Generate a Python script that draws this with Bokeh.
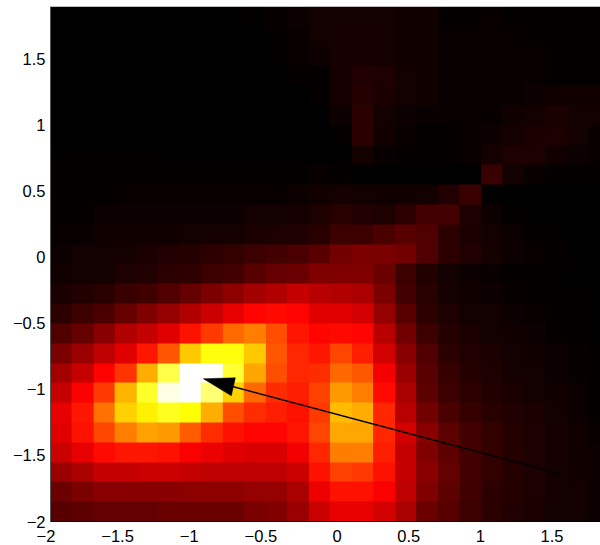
import numpy as np
from bokeh.embed import file_html
from bokeh.resources import INLINE
from bokeh.plotting import figure
from bokeh.models import LinearColorMapper, FixedTicker

# Heat values per row, bottom row first, columns left to right (0..100 on the "hot" scale)
r00 = [13,14,15,15,15,16,16,16,16,18,19,23,30,34,34,31,25,16,13,9,7,5,4,3,3,2]
r01 = [16,18,20,20,20,20,21,21,21,22,22,25,35,40,40,37,28,19,14,9.5,7,5.5,4.5,3.5,3,2]
r02 = [23,25,29,29,30,30,29,28,28,28,28,30,40,47,46,40,29,20,14.5,10,7.5,5.5,4.5,3.5,2.5,2]
r03 = [30,34,39,41,41,40,37,35,33,32,32,36,43,56,56,42,29,19,14,10,7.5,5.5,4.5,3.5,2.5,2]
r04 = [33,40,48,56,61,60,51,44,40,38,38,41,48,62,62,43,31,20,14,10,7.5,5.5,4.5,3.5,2.5,1.5]
r05 = [34,41,54,68,73,78,75,63,49,44,42,40,46,65,63,43,27,17,11,8,6,5,4,3,2,1]
r06 = [29,37,46,64,79,97,100,86,68,53,44,42,47,60,56,39,25,14,9,7,5,4,3,2.5,2,1]
r07 = [24,29,37.5,45,63,82,100,99,80,62,49,43,44,53,50,36,23,13,8,5.5,4.5,3.5,3,2,1.5,1]
r08 = [18,23,28,33,41,50,67,76,76,67,50,43,41,48,42,31,20,12,7,5,4,3,2.5,2,1.5,0.5]
r09 = [12,15,20,26,29,33,40,46,53,56,49,41,38,39,38,27,17,9,5.5,4,3,2.5,2,1,1,0.3]
r10 = [7,9,11,15,19,22,26,30,34,38,39,38,33,33,31,22,13,7,4.5,3,3,2,1.5,1,0.5,0.3]
r11 = [4,5,6,8.5,9.5,12,15,18,21,24,26,29,27,26,25,18,10,6,3.5,2.5,2,1.5,1,0.7,0.5,0.3]
r12 = [2.5,3,3,4.5,5,7,7,9,10,13,15,16,19,19,19,16,9,5,3,2,1.5,1,0.7,0.5,0.3,0.1]
r13 = [2,3,3,3.5,4,5,5.5,7,7.5,9,10,11,13,17,18,18,17,12,7,5,3.5,2,1.5,1,0.3,0.2]
r14 = [1.5,1.5,2.5,2.5,2.5,2.5,3,3.5,3.5,4,4.5,5,6,9,9,11,13,12,7,4,3,2,1,0.5,0.2,0.2]
r15 = [1,1,2,2,2,2,2,2,2,3,3,3.5,4.5,6,5,4.5,7,10,10,4.5,2,1,0.3,0.2,0.2,0.2]
r16 = [1,1,1,1.5,1.5,1.5,1.5,1.5,1.5,1.5,1.5,2,2.5,3.5,3,2.5,2.5,3,5,8.5,1,0.3,0.2,0.2,0.2,0.2]
r17 = [0.8,0.8,0.8,0.8,0.8,0.8,0.8,0.8,0.8,0.8,0.8,1,1.5,1,0.3,0.2,0.2,0.2,0.2,0.2,8.5,3,1.5,1,1,1]
r18 = [0.7,0.7,0.7,0.7,0.7,0.1,0.1,0.1,0.1,0.1,0.1,0.1,0.2,0.2,3.5,1.5,1,1,1,1.5,3.5,4.5,4.5,2.5,2,1.5]
r19 = [0.1,0.1,0.1,0.1,0.1,0.1,0.1,0.1,0.1,0.1,0.1,0.1,0.1,1,6.5,2.5,1.5,1,1,1.5,2,3.5,4,4.5,3,1.5]
r20 = [0.1,0.1,0.1,0.1,0.1,0.1,0.1,0.1,0.1,0.1,0.1,0.1,0.2,2,6.5,3,2,1.5,1.5,1.5,1.5,2.5,3,4,3,3]
r21 = [0.1,0.1,0.1,0.1,0.1,0.1,0.1,0.1,0.1,0.1,0.1,0.1,0.8,3.5,5.5,4,3,2.5,1.5,1.5,1.5,1.5,2,2.5,2.5,2.5]
r22 = [0.1,0.1,0.1,0.1,0.1,0.1,0.1,0.1,0.1,0.1,0.1,1,1,3.5,5,4.5,3,2.5,1.5,1.5,1.5,1.5,1.5,1,1,1]
r23 = [0.1,0.1,0.1,0.1,0.1,0.1,0.1,0.1,0.1,0.1,1,1.5,2,3.5,3.5,3.5,2.5,2.5,1.5,1.2,1.2,1.2,1.2,1,1,1]
r24 = [0.1,0.1,0.1,0.1,0.1,0.1,0.1,0.1,0.1,0.1,1,1.5,3,3.5,3.5,3.5,2.5,2.5,1.5,1.2,1.2,1.2,1,1,1,1]
r25 = [0.1,0.1,0.1,0.1,0.1,0.1,0.1,0.1,0.1,0.7,1.5,2,3,3,3,3,2.5,2.5,1,1,1.2,1,1,1,1,1]
rows = [r00,r01,r02,r03,r04,r05,r06,r07,r08,r09,r10,r11,r12,r13,r14,r15,r16,r17,r18,r19,r20,r21,r22,r23,r24,r25]

grid_start = -2.0
grid_span = 3.9

x_tick_values = [-2, -1.5, -1, -0.5, 0, 0.5, 1, 1.5]
x_tick_labels = ["−2", "−1.5", "−1", "−0.5", "0", "0.5", "1", "1.5"]
y_tick_values = [-2, -1.5, -1, -0.5, 0, 0.5, 1, 1.5]
y_tick_labels = ["−2", "−1.5", "−1", "−0.5", "0", "0.5", "1", "1.5"]

arrow_tail_x = 1.579
arrow_tail_y = -1.646
arrow_neck_x = -0.724
arrow_neck_y = -0.98
head_x = [-0.933, -0.71, -0.738]
head_y = [-0.919, -0.912, -1.048]

FONT = "Liberation Sans"
FONT_SIZE = "16.5px"

# MATLAB "hot" colour map
hot = []
for t in np.linspace(0, 1, 256):
    r = min(t / 0.375, 1)
    g = min(max((t - 0.375) / 0.375, 0), 1)
    b = min(max((t - 0.75) / 0.25, 0), 1)
    hot.append("#%02x%02x%02x" % (round(r * 255), round(g * 255), round(b * 255)))

Z = np.array(rows, dtype=float)
mapper = LinearColorMapper(palette=hot, low=0, high=100)

p = figure(width=592, height=539, frame_height=515, x_range=(-2, 1.838), y_range=(-2, 1.9),
           output_backend="svg", toolbar_location=None,
           min_border_left=42, min_border_right=0, min_border_top=0, min_border_bottom=0)
p.styles = {"position": "absolute", "left": "8px", "top": "6px"}
p.outline_line_color = None
p.grid.visible = False

p.image(image=[Z], x=grid_start, y=grid_start, dw=grid_span, dh=grid_span, color_mapper=mapper)

p.segment(x0=[arrow_tail_x], y0=[arrow_tail_y], x1=[arrow_neck_x], y1=[arrow_neck_y],
          line_color="black", line_width=1.5)
p.patch(x=head_x, y=head_y, fill_color="black", line_color="black", line_width=0.5)

p.yaxis.ticker = FixedTicker(ticks=y_tick_values)
p.yaxis.major_label_overrides = dict(zip(y_tick_values, y_tick_labels))
p.yaxis.major_label_text_font = FONT
p.yaxis.major_label_text_font_size = FONT_SIZE
p.yaxis.major_label_text_color = "black"
p.yaxis.major_label_standoff = 5
p.yaxis.major_tick_in = 0
p.yaxis.major_tick_out = 0
p.yaxis.minor_tick_in = 0
p.yaxis.minor_tick_out = 0
p.yaxis.major_tick_line_color = None
p.yaxis.minor_tick_line_color = None
p.yaxis.axis_line_color = "#555555"
p.yaxis.axis_line_width = 1

# Negative x labels hang their minus sign left of the tick: two no-break spaces re-centre the digits
p.xaxis.ticker = FixedTicker(ticks=x_tick_values)
p.xaxis.major_label_overrides = {
    t: (s + "\u00a0\u00a0" if s.startswith("−") else s) for t, s in zip(x_tick_values, x_tick_labels)
}
p.xaxis.major_label_text_font = FONT
p.xaxis.major_label_text_font_size = FONT_SIZE
p.xaxis.major_label_text_color = "black"
p.xaxis.major_label_standoff = 5
p.xaxis.major_tick_in = 0
p.xaxis.major_tick_out = 0
p.xaxis.minor_tick_in = 0
p.xaxis.minor_tick_out = 0
p.xaxis.major_tick_line_color = None
p.xaxis.minor_tick_line_color = None
p.xaxis.axis_line_color = "black"
p.xaxis.axis_line_width = 1.2

open("out.html", "w").write(file_html(p, INLINE))
